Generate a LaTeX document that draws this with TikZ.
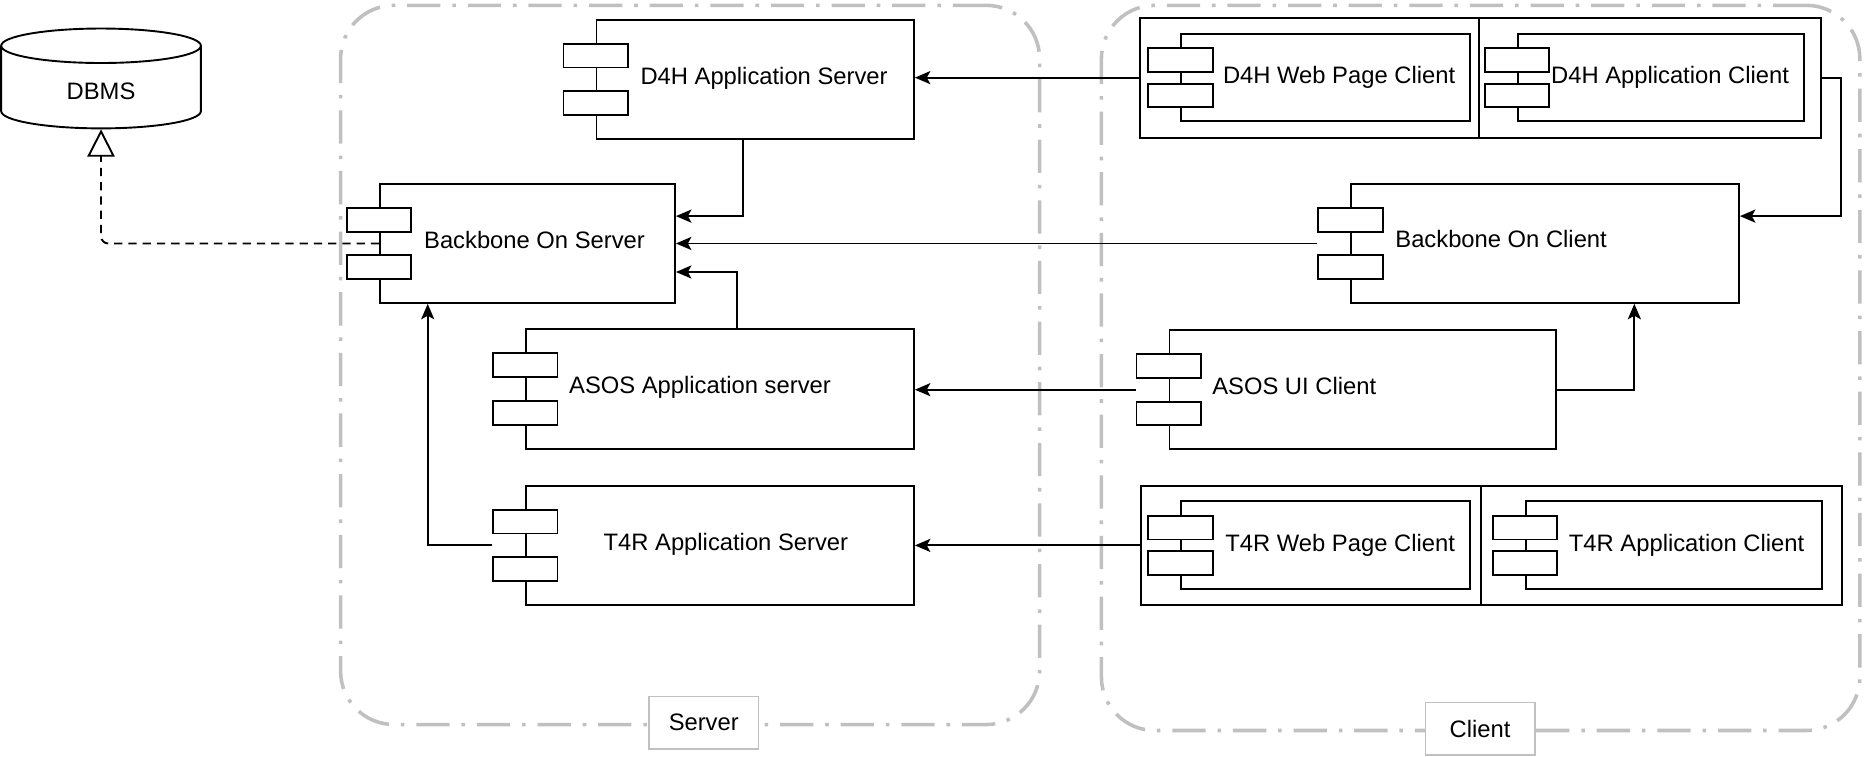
\documentclass[tikz,border=0pt]{standalone}
\usepackage{fontspec}
\setmainfont{Liberation Sans}
\usepackage{tikz}
\usetikzlibrary{arrows.meta,positioning,calc}
\usepackage{xcolor}
\definecolor{grp}{HTML}{C0C0C0}

\begin{document}
\begin{tikzpicture}[
  x=1pt, y=-1pt,
  font=\fontsize{20}{24}\selectfont,
  line width=1.6pt,
  comp/.style={draw, fill=white, inner sep=0, anchor=north west},
  port/.style={draw, fill=white, inner sep=0, minimum width=54pt, minimum height=20pt},
  lbl/.style={inner sep=0, anchor=base west},
  group/.style={draw=grp, line width=3pt, rounded corners=45pt, inner sep=0, anchor=north west,
    dash pattern=on 28pt off 10pt on 3pt off 10pt},
  tag/.style={draw=grp, line width=1.3pt, fill=white, minimum width=92pt, minimum height=44pt},
  arrow/.style={-{Stealth[length=13pt,width=11pt,inset=3pt]}},
  realize/.style={-{Triangle[open,length=23pt,width=23pt]}, dash pattern=on 7pt off 5pt, rounded corners=6pt}
]
\useasboundingbox (0,0) rectangle (1568,636);

% containers
\node[group, minimum width=588pt, minimum height=605pt] (server) at (285,3) {};
\node[group, minimum width=638pt, minimum height=610pt] (client) at (925,3) {};
\node[tag] (server-t) at (592,608) {Server};
\node[tag] (client-t) at (1245,613) {Client};

% database
\draw (85,38.5) ellipse [x radius=84pt, y radius=14.5pt];
\draw (1,38.5) -- (1,93.5) arc[start angle=180, end angle=360, x radius=84pt, y radius=14.5pt] -- (169,38.5);
\node[inner sep=0, minimum width=168pt, minimum height=84pt] (dbms) at (85,66) {};
\node (dbms-t) at (85,77) {DBMS};

% server side
\node[comp, minimum width=267pt, minimum height=100pt] (d4hsrv) at (501,16) {};
\node[comp, minimum width=248pt, minimum height=100pt] (bbsrv) at (319,154) {};
\node[comp, minimum width=326pt, minimum height=101pt] (asossrv) at (442,276) {};
\node[comp, minimum width=326pt, minimum height=100pt] (t4rsrv) at (442,408) {};

% client side
\node[comp, minimum width=573pt, minimum height=101pt] (d4hgrp) at (958,14) {};
\node[comp, minimum width=243pt, minimum height=73pt] (d4hweb) at (993,28) {};
\node[comp, minimum width=241pt, minimum height=73pt] (d4happ) at (1276,28) {};
\node[comp, minimum width=326pt, minimum height=100pt] (bbcli) at (1136,154) {};
\node[comp, minimum width=325pt, minimum height=100pt] (asoscli) at (983,277) {};
\node[comp, minimum width=590pt, minimum height=100pt] (t4rgrp) at (959,408) {};
\node[comp, minimum width=243pt, minimum height=74pt] (t4rweb) at (993,421) {};
\node[comp, minimum width=249pt, minimum height=74pt] (t4rapp) at (1283,421) {};
\draw (1244,14) -- (1244,115);
\draw (1246,408) -- (1246,508);

% ports
\foreach \c in {d4hsrv,bbsrv,asossrv,t4rsrv,bbcli,asoscli} {
  \node[port] (\c-p1) at ([yshift=20pt]\c.west) {};
  \node[port] (\c-p2) at ([yshift=-20pt]\c.west) {};
}
\foreach \c in {d4hweb,d4happ,t4rweb,t4rapp} {
  \node[port] (\c-p1) at ([yshift=15pt]\c.west) {};
  \node[port] (\c-p2) at ([yshift=-15pt]\c.west) {};
}

% labels
\node[lbl] (d4hsrv-t) at ([xshift=37pt,yshift=-4pt]d4hsrv.west) {D4H Application Server};
\node[lbl] (bbsrv-t) at ([xshift=37pt,yshift=-4pt]bbsrv.west) {Backbone On Server};
\node[lbl] (asossrv-t) at ([xshift=36pt,yshift=-4pt]asossrv.west) {ASOS Application server};
\node[lbl] (t4rsrv-t) at ([xshift=65pt,yshift=-4pt]t4rsrv.west) {T4R Application Server};
\node[lbl] (d4hweb-t) at ([xshift=35pt,yshift=-5pt]d4hweb.west) {D4H Web Page Client};
\node[lbl] (d4happ-t) at ([xshift=28pt,yshift=-5pt]d4happ.west) {D4H Application Client};
\node[lbl] (bbcli-t) at ([xshift=37pt,yshift=-3pt]bbcli.west) {Backbone On Client};
\node[lbl] (asoscli-t) at ([xshift=36pt,yshift=-4pt]asoscli.west) {ASOS UI Client};
\node[lbl] (t4rweb-t) at ([xshift=37pt,yshift=-5pt]t4rweb.west) {T4R Web Page Client};
\node[lbl] (t4rapp-t) at ([xshift=36pt,yshift=-5pt]t4rapp.west) {T4R Application Client};

% connectors
\draw[arrow] (d4hgrp.west) -- (d4hgrp.west -| d4hsrv.east);
\draw[arrow] ([xshift=-10.5pt]d4hsrv.south) |- ([yshift=23pt]bbsrv.east);
\draw[arrow] (bbcli.west -| bbcli-p1.west) -- (bbsrv.east);
\draw[arrow] ([xshift=14pt]asossrv.north) |- ([yshift=-24pt]bbsrv.east);
\draw[arrow] (asoscli.west -| asoscli-p1.west) -- (asoscli.west -| asossrv.east);
\draw[arrow] (asoscli.east) -| ([xshift=75pt]bbcli.south);
\draw[arrow] (d4hgrp.east) -- ++(16,0) |- ([yshift=23pt]bbcli.east);
\draw[arrow] (t4rgrp.west) -- (t4rgrp.west -| t4rsrv.east);
\draw[arrow] (t4rsrv.west -| t4rsrv-p1.west) -| ([xshift=-84pt]bbsrv.south);
\draw[realize] (bbsrv.west) -| (dbms.south);

\end{tikzpicture}
\end{document}
